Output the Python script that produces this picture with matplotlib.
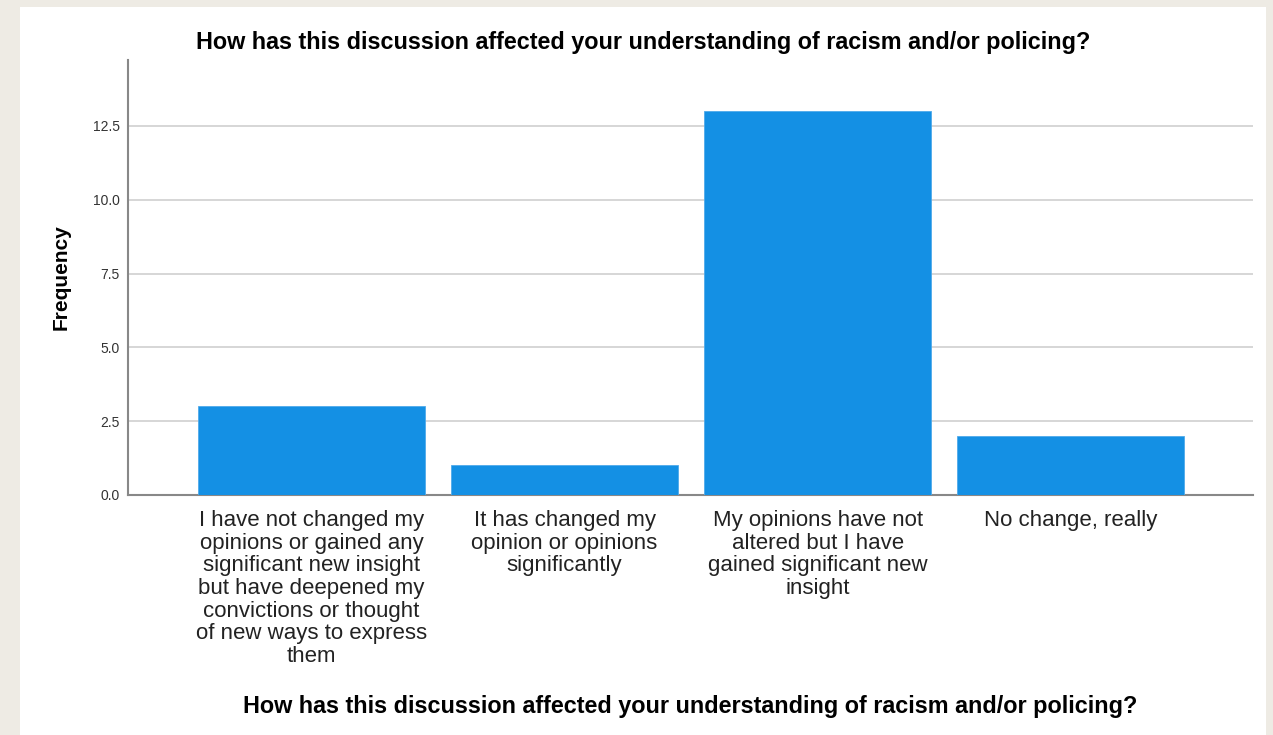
import matplotlib
matplotlib.use('Agg')
import matplotlib.pyplot as plt
from matplotlib.patches import Rectangle

categories = [
    'I have not changed my\nopinions or gained any\nsignificant new insight\nbut have deepened my\nconvictions or thought\nof new ways to express\nthem',
    'It has changed my\nopinion or opinions\nsignificantly',
    'My opinions have not\naltered but I have\ngained significant new\ninsight',
    'No change, really',
]
frequency = [3, 1, 13, 2]
y_ticks = [0.0, 2.5, 5.0, 7.5, 10.0, 12.5]

TITLE = 'How has this discussion affected your understanding of racism and/or policing?'
BAR = '#1490E4'
BG = '#EEEBE4'

plt.rcParams['font.family'] = ['Liberation Sans', 'DejaVu Sans']

W, H = 1273, 735
fig = plt.figure(figsize=(W / 100, H / 100), dpi=100, facecolor=BG)
fig.patches.append(Rectangle((20 / W, 0), 1246 / W, 1 - 7 / H, transform=fig.transFigure,
                             facecolor='white', edgecolor='none', zorder=-5))

ax = fig.add_axes([128 / W, 1 - 495 / H, (1253 - 128) / W, (495 - 60) / H])
ax.set_zorder(2)
ax.set_facecolor('white')
x = range(len(categories))
ax.bar(x, frequency, width=0.897, color=BAR, edgecolor='#4FAAEA', linewidth=0.6, zorder=3)
ax.set_xlim(-0.725, 3.72)
ax.set_ylim(0, 14.73)
ax.set_yticks(y_ticks)
ax.set_yticklabels([f'{v:.1f}' for v in y_ticks], fontsize=10, color='#333333')
ax.yaxis.grid(True, color='#CFCFCF', lw=1.2, zorder=0)
ax.set_axisbelow(True)
ax.tick_params(axis='y', length=0, pad=6)
ax.tick_params(axis='x', length=0, pad=11)
ax.set_xticks(list(x))
ax.set_xticklabels(categories, fontsize=16, color='#222222', linespacing=1.1)
for s in ['top', 'right']:
    ax.spines[s].set_visible(False)
for s in ['left', 'bottom']:
    ax.spines[s].set_color('#888888')
    ax.spines[s].set_linewidth(1.5)

ax.set_ylabel('Frequency', fontsize=15, fontweight='bold', labelpad=16)
fig.text(643 / W, 1 - 43 / H, TITLE, ha='center', va='center', fontsize=16.8, fontweight='bold')
fig.text(690 / W, 1 - 707 / H, TITLE, ha='center', va='center', fontsize=16.8, fontweight='bold')

fig.savefig('out.png', dpi=100, facecolor=BG)
